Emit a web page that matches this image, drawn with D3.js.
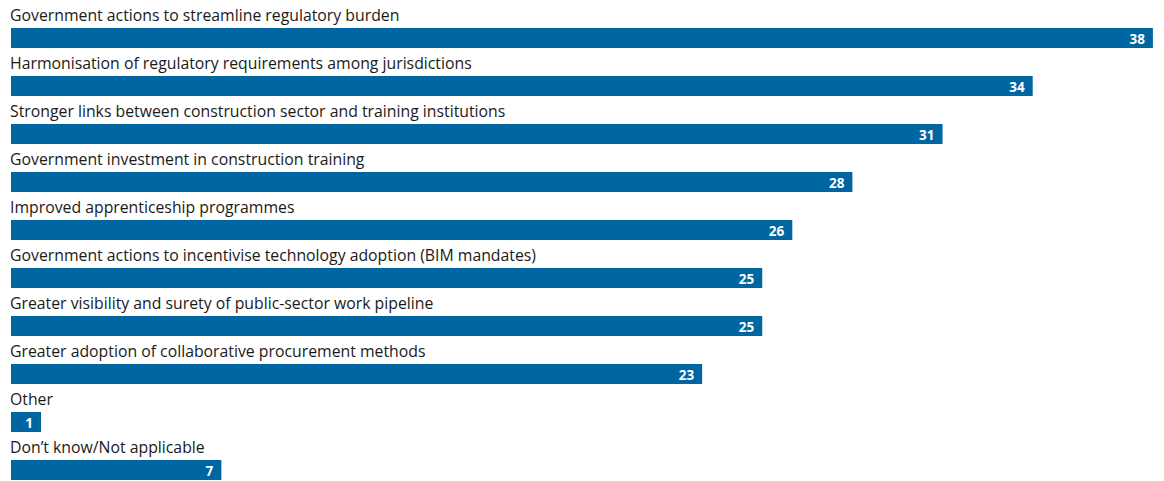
<!DOCTYPE html>
<html>
<head>
<meta charset="utf-8">
<script src="https://cdn.jsdelivr.net/npm/d3@7"></script>
<style>
  html, body { margin: 0; padding: 0; background: #fff; }
  svg { display: block; }
  .cat { font-family: "Open Sans", Lato, sans-serif; font-size: 15.8px; fill: #1a1a1a; }
  .val { font-family: "Open Sans", Lato, sans-serif; font-size: 13.5px; font-weight: bold; fill: #fff; }
</style>
</head>
<body>
<svg id="chart" width="1164" height="481"></svg>
<script>
// Survey responses: share of respondents (%)
const categories = [
  "Government actions to streamline regulatory burden",
  "Harmonisation of regulatory requirements among jurisdictions",
  "Stronger links between construction sector and training institutions",
  "Government investment in construction training",
  "Improved apprenticeship programmes",
  "Government actions to incentivise technology adoption (BIM mandates)",
  "Greater visibility and surety of public-sector work pipeline",
  "Greater adoption of collaborative procurement methods",
  "Other",
  "Don\u2019t know/Not applicable"
];
const values = [38, 34, 31, 28, 26, 25, 25, 23, 1, 7];

const svg = d3.select("#chart");
const left = 11;
const rowStep = 48;
const barH = 20;
const firstBarTop = 28;

const x = d3.scaleLinear().domain([0, 38]).range([left, left + 38 * 30.05]);
const y = d3.scaleBand()
  .domain(categories)
  .range([firstBarTop, firstBarTop + rowStep * categories.length])
  .paddingInner(0).paddingOuter(0);

const rows = svg.selectAll("g.row")
  .data(categories.map((c, i) => ({ c, v: values[i] })))
  .join("g")
  .attr("class", "row")
  .attr("transform", d => `translate(0,${y(d.c)})`);

rows.append("text")
  .attr("class", "cat")
  .attr("x", left - 1)
  .attr("y", -7)
  .text(d => d.c);

rows.append("rect")
  .attr("x", x(0))
  .attr("y", 0)
  .attr("width", d => x(d.v) - x(0))
  .attr("height", barH)
  .attr("fill", "#0066a2");

rows.append("text")
  .attr("class", "val")
  .attr("x", d => x(d.v) - 8)
  .attr("y", 15.5)
  .attr("text-anchor", "end")
  .text(d => d.v);
</script>
</body>
</html>
